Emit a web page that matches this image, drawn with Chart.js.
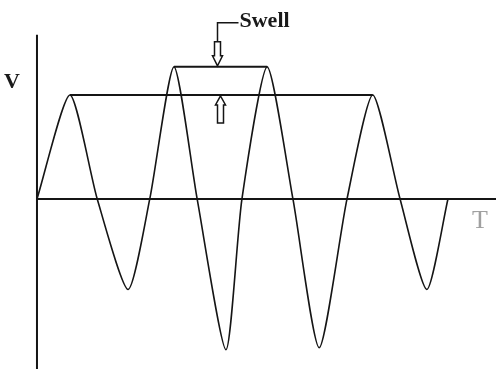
<!DOCTYPE html>
<html>
<head>
<meta charset="utf-8">
<script src="https://cdn.jsdelivr.net/npm/chart.js@4.4.1/dist/chart.umd.min.js"></script>
<style>
  body { margin: 0; background: #fff; }
  #wrap { width: 496px; height: 369px; position: relative; }
</style>
</head>
<body>
<div id="wrap"><canvas id="swellChart"></canvas></div>
<script>
// time in ms (4 cycles of 20 ms), voltage in per-unit
var waveT = [0, 6.4, 11.7, 17.7, 21.9, 26.6, 31.1, 36.7, 39.8, 44.7, 49.7, 54.8, 60.2, 65.2, 70.5, 75.7, 79.8];
var waveV = [0, 1.0, 0, -0.87, 0, 1.27, 0, -1.45, 0, 1.27, 0, -1.43, 0, 1.0, 0, -0.87, 0];

var nominalLevel = 1.0;
var nominalSpan = [6.4, 65.2];
var swellLevel = 1.27;
var swellSpan = [26.6, 44.7];

var tRange = [-7.18, 89.13];
var vRange = [-1.635, 1.913];
var vAxisTop = 1.58;

var axisNames = ['V', 'T'];
var swellText = 'Swell';
var arrowT = [35.0, 35.5];

var wavePoints = [];
for (var i in waveT) {
  wavePoints.push({x: waveT[i], y: waveV[i]});
}

var ink = '#151515';

var annotate = {
  id: 'annotate',
  afterDatasetsDraw: function(chart) {
    var ctx = chart.ctx;
    var xs = chart.scales.x, ys = chart.scales.y;
    ctx.save();
    ctx.strokeStyle = ink;
    ctx.fillStyle = '#fff';
    ctx.lineWidth = 1.5;

    // down arrow onto swell level
    var dx = Math.round(xs.getPixelForValue(arrowT[0])) + 0.5;
    var dy = ys.getPixelForValue(swellLevel) - 1;
    ctx.beginPath();
    ctx.moveTo(dx, dy);
    ctx.lineTo(dx - 5, dy - 10);
    ctx.lineTo(dx - 3, dy - 10);
    ctx.lineTo(dx - 3, dy - 24);
    ctx.lineTo(dx + 3, dy - 24);
    ctx.lineTo(dx + 3, dy - 10);
    ctx.lineTo(dx + 5, dy - 10);
    ctx.closePath();
    ctx.fill();
    ctx.stroke();

    // leader line to label
    ctx.beginPath();
    ctx.moveTo(dx, dy - 24);
    ctx.lineTo(dx, dy - 43);
    ctx.lineTo(dx + 21, dy - 43);
    ctx.stroke();

    // up arrow from nominal level
    var ux = Math.round(xs.getPixelForValue(arrowT[1])) + 0.5;
    var uy = ys.getPixelForValue(nominalLevel) + 1;
    ctx.beginPath();
    ctx.moveTo(ux, uy);
    ctx.lineTo(ux - 5, uy + 9);
    ctx.lineTo(ux - 3, uy + 9);
    ctx.lineTo(ux - 3, uy + 27);
    ctx.lineTo(ux + 3, uy + 27);
    ctx.lineTo(ux + 3, uy + 9);
    ctx.lineTo(ux + 5, uy + 9);
    ctx.closePath();
    ctx.fill();
    ctx.stroke();

    // texts
    ctx.fillStyle = '#1a1a1a';
    ctx.textBaseline = 'middle';
    ctx.font = 'bold 22px "Liberation Serif"';
    ctx.fillText(swellText, dx + 22, dy - 45);

    ctx.textAlign = 'center';
    ctx.fillText(axisNames[0], 12, ys.getPixelForValue(1.12));
    ctx.fillStyle = '#a0a0a0';
    ctx.font = '26px "Liberation Serif"';
    ctx.fillText(axisNames[1], 480, ys.getPixelForValue(-0.21));
    ctx.restore();
  }
};

var ctx = document.getElementById('swellChart');

var chart = new Chart(ctx, {
  type: 'line',
  data: {
    datasets: [
      {
        label: 'wave',
        data: wavePoints,
        borderColor: ink,
        borderWidth: 1.6,
        pointRadius: 0,
        tension: 0.22
      },
      {
        label: 'nominal',
        data: [{x: nominalSpan[0], y: nominalLevel}, {x: nominalSpan[1], y: nominalLevel}],
        borderColor: ink,
        borderWidth: 2,
        pointRadius: 0
      },
      {
        label: 'swell',
        data: [{x: swellSpan[0], y: swellLevel}, {x: swellSpan[1], y: swellLevel}],
        borderColor: ink,
        borderWidth: 2,
        pointRadius: 0
      },
      {
        label: 'time axis',
        data: [{x: 0, y: 0}, {x: tRange[1], y: 0}],
        borderColor: ink,
        borderWidth: 2,
        pointRadius: 0
      },
      {
        label: 'voltage axis',
        data: [{x: 0, y: vAxisTop}, {x: 0, y: vRange[0]}],
        borderColor: ink,
        borderWidth: 2,
        pointRadius: 0
      }
    ]
  },
  options: {
    responsive: true,
    maintainAspectRatio: false,
    animation: false,
    devicePixelRatio: 1,
    layout: { padding: 0 },
    plugins: {
      legend: { display: false },
      tooltip: { enabled: false }
    },
    scales: {
      x: { type: 'linear', display: false, min: tRange[0], max: tRange[1] },
      y: { type: 'linear', display: false, min: vRange[0], max: vRange[1] }
    }
  },
  plugins: [annotate]
});
</script>
</body>
</html>
